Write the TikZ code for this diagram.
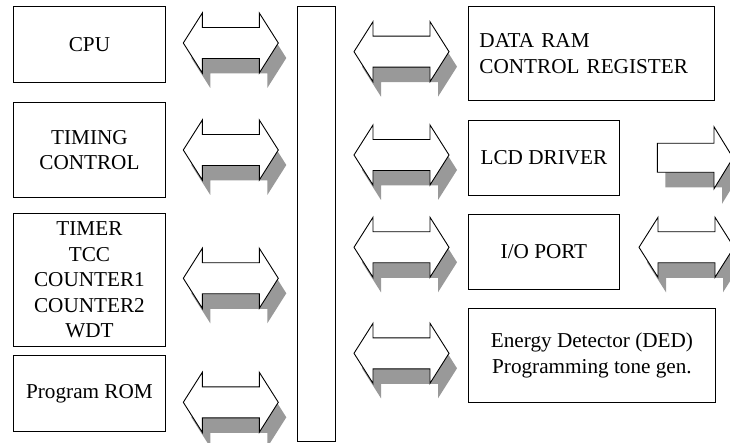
\documentclass[tikz,border=0pt]{standalone}
\usepackage{fontspec}
\setmainfont{Liberation Serif}
\usetikzlibrary{calc}
\definecolor{shadowc}{HTML}{999999}
\tikzset{
  box/.style={draw=black, line width=0.9pt, fill=white, inner sep=0pt, anchor=north west,
    align=center, font=\fontsize{21.2}{25.5}\selectfont},
  pics/dblarrow/.style={code={
    \fill[shadowc, shift={(8,15)}] (-47.5,0) -- (-28.5,-30) -- (-28.5,-15.5) -- (28.5,-15.5) -- (28.5,-30) -- (47.5,0) -- (28.5,30) -- (28.5,15.5) -- (-28.5,15.5) -- (-28.5,30) -- cycle;
    \draw[line width=0.9pt, fill=white, line join=miter] (-47.5,0) -- (-28.5,-30) -- (-28.5,-15.5) -- (28.5,-15.5) -- (28.5,-30) -- (47.5,0) -- (28.5,30) -- (28.5,15.5) -- (-28.5,15.5) -- (-28.5,30) -- cycle;
  }},
  pics/rarrow/.style={code={
    \fill[shadowc, shift={(8,15)}] (-56.7,-14.5) -- (0,-14.5) -- (0,-31) -- (19,0) -- (0,31) -- (0,14.5) -- (-56.7,14.5) -- cycle;
    \draw[line width=0.9pt, fill=white, line join=miter] (-56.7,-14.5) -- (0,-14.5) -- (0,-31) -- (19,0) -- (0,31) -- (0,14.5) -- (-56.7,14.5) -- cycle;
  }}
}
\begin{document}
\begin{tikzpicture}[x=1pt, y=-1pt]
\useasboundingbox (0,0) rectangle (730,443);
\fill[white] (0,0) rectangle (730,443);
\clip (0,0) rectangle (730,443);

% left column
\node[box, minimum width=152pt, minimum height=76pt] (cpu) at (13,6) {CPU};
\node[box, minimum width=152pt, minimum height=95pt] (timing) at (13,102) {TIMING\\CONTROL};
\node[box, minimum width=152pt, minimum height=133pt] (timer) at (13,213) {TIMER\\TCC\\COUNTER1\\COUNTER2\\WDT};
\node[box, minimum width=152pt, minimum height=76pt] (rom) at (13,355) {Program ROM};

% bus
\node[box, minimum width=38pt, minimum height=435pt] (bus) at (297,6) {};

% right column
\node[box, align=left, text width=224pt, inner xsep=11pt, minimum height=94pt] (ram) at (468,6) {DATA RAM\\CONTROL REGISTER};
\node[box, minimum width=151pt, minimum height=75pt] (lcd) at (468,120) {LCD DRIVER};
\node[box, minimum width=151pt, minimum height=75pt] (io) at (468,214) {I/O PORT};
\node[box, minimum width=247pt, minimum height=94pt] (ded) at (468,308) {Energy Detector (DED)\\Programming tone gen.};

% bus arrows, left
\pic at (230.8,43) {dblarrow};
\pic at (230.8,150) {dblarrow};
\pic at (230.8,278.3) {dblarrow};
\pic at (230.8,402.3) {dblarrow};

% bus arrows, right
\pic at (401.5,51.7) {dblarrow};
\pic at (401.5,155) {dblarrow};
\pic at (401.5,247.3) {dblarrow};
\pic at (401.5,353.3) {dblarrow};

% external arrows
\pic at (714,157.8) {rarrow};
\pic at (686.5,247.3) {dblarrow};
\end{tikzpicture}
\end{document}
